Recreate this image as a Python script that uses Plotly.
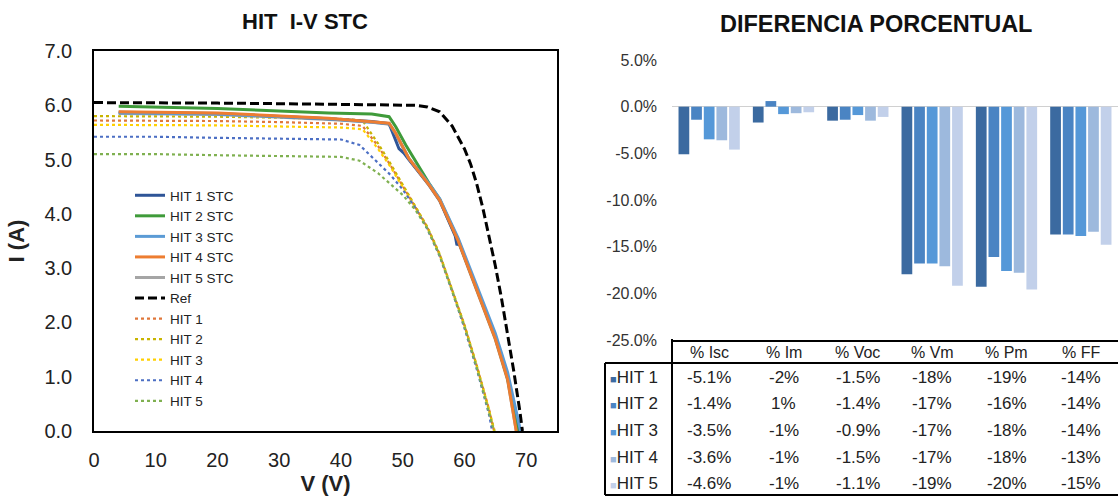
import plotly.graph_objects as go

# ---------------- Left chart data (I-V curves) ----------------
ref_v = [0, 10, 20, 30, 40, 48, 52, 54, 56, 58, 60, 61, 62, 63, 64, 65, 66, 67, 68, 69, 69.4]
ref_i = [6.05, 6.05, 6.04, 6.03, 6.02, 6.01, 6.0, 5.97, 5.88, 5.62, 5.2, 4.92, 4.55, 4.1, 3.6, 3.05, 2.45, 1.8, 1.1, 0.35, 0.0]

stc1_v = [4, 20, 38, 45, 47.8, 48.5, 49.4, 50.2, 51, 54.3, 56, 58.5, 58.8, 59.1, 61, 63, 65, 67, 68.8]
stc1_i = [5.87, 5.85, 5.75, 5.70, 5.66, 5.45, 5.20, 5.12, 5.00, 4.53, 4.25, 3.60, 3.42, 3.48, 2.92, 2.33, 1.73, 0.98, 0.0]
stc2_v = [4, 20, 38, 45, 47.8, 48.9, 50.5, 52, 54.3, 56, 59, 61, 63, 65, 67, 68.6]
stc2_i = [5.98, 5.94, 5.86, 5.84, 5.79, 5.60, 5.27, 4.98, 4.56, 4.27, 3.52, 2.92, 2.32, 1.72, 0.97, 0.0]
stc3_v = [4, 20, 38, 45, 47.8, 48.9, 51, 54.3, 56, 59, 61, 63, 65, 67, 69.1]
stc3_i = [5.86, 5.84, 5.75, 5.69, 5.66, 5.47, 5.02, 4.55, 4.28, 3.55, 2.96, 2.38, 1.80, 1.08, 0.0]
stc4_v = [4, 20, 38, 45, 47.8, 48.9, 51, 54.3, 56, 59, 61, 63, 65, 67, 68.4]
stc4_i = [5.88, 5.86, 5.76, 5.70, 5.67, 5.48, 5.02, 4.53, 4.25, 3.50, 2.90, 2.30, 1.70, 0.95, 0.0]
stc5_v = [4, 20, 38, 45, 47.8, 48.9, 51, 54.3, 56, 59, 61, 63, 65, 67, 68.4]
stc5_i = [5.85, 5.83, 5.74, 5.69, 5.65, 5.47, 5.01, 4.52, 4.24, 3.49, 2.89, 2.29, 1.69, 0.94, 0.0]

hit1_v = [0, 10, 20, 30, 40, 43.5, 46, 48, 50, 52, 54, 56, 58, 60, 62, 64, 64.8]
hit1_i = [5.72, 5.72, 5.71, 5.69, 5.66, 5.62, 5.25, 4.90, 4.52, 4.15, 3.75, 3.25, 2.62, 1.95, 1.20, 0.40, 0.0]
hit2_v = [0, 10, 20, 30, 40, 43.5, 46, 48, 50, 52, 54, 56, 58, 60, 62, 64, 64.9]
hit2_i = [5.80, 5.80, 5.79, 5.77, 5.75, 5.72, 5.30, 4.93, 4.54, 4.16, 3.76, 3.26, 2.63, 1.96, 1.21, 0.41, 0.0]
hit3_v = [0, 10, 20, 30, 40, 43.5, 46, 48, 50, 52, 54, 56, 58, 60, 62, 64, 64.8]
hit3_i = [5.64, 5.64, 5.63, 5.61, 5.59, 5.56, 5.20, 4.87, 4.50, 4.13, 3.74, 3.24, 2.61, 1.94, 1.19, 0.39, 0.0]
hit4_v = [0, 10, 20, 30, 40, 43, 46, 48, 50, 52, 54, 56, 58, 60, 62, 64, 64.5]
hit4_i = [5.42, 5.42, 5.40, 5.39, 5.37, 5.27, 4.95, 4.72, 4.45, 4.12, 3.72, 3.22, 2.58, 1.90, 1.14, 0.30, 0.0]
hit5_v = [0, 10, 20, 30, 40, 43, 46, 48, 50, 52, 54, 56, 58, 60, 62, 64, 64.8]
hit5_i = [5.10, 5.10, 5.08, 5.07, 5.05, 4.98, 4.75, 4.55, 4.35, 4.08, 3.73, 3.23, 2.60, 1.93, 1.17, 0.37, 0.0]

# ---------------- Right chart data (percent differences) ----------------
categories = ["% Isc", "% Im", "% Voc", "% Vm", "% Pm", "% FF"]
decimals = [1, 0, 1, 0, 0, 0]
series_names = ["HIT 1", "HIT 2", "HIT 3", "HIT 4", "HIT 5"]
d_hit1 = [-5.1, -1.7, -1.5, -17.95, -19.3, -13.7]
d_hit2 = [-1.4, 0.6, -1.4, -16.8, -16.1, -13.7]
d_hit3 = [-3.5, -0.8, -0.9, -16.8, -17.6, -13.85]
d_hit4 = [-3.6, -0.7, -1.5, -17.1, -17.8, -13.4]
d_hit5 = [-4.6, -0.6, -1.1, -19.2, -19.6, -14.8]
y_ticks = [5, 0, -5, -10, -15, -20, -25]

W, H = 1118, 499
FONT = "Liberation Sans, Arial, sans-serif"

def px_x(x):
    return x / W

def px_y(y):
    return 1 - y / H

fig = go.Figure()

solid = [
    ("HIT 1 STC", stc1_v, stc1_i, "#2F5597"),
    ("HIT 2 STC", stc2_v, stc2_i, "#3F9B3A"),
    ("HIT 3 STC", stc3_v, stc3_i, "#5B9BD5"),
    ("HIT 4 STC", stc4_v, stc4_i, "#ED7D31"),
    ("HIT 5 STC", stc5_v, stc5_i, "#A5A5A5"),
]
dotted = [
    ("HIT 1", hit1_v, hit1_i, "#E0773A"),
    ("HIT 2", hit2_v, hit2_i, "#C8B400"),
    ("HIT 3", hit3_v, hit3_i, "#FFD000"),
    ("HIT 4", hit4_v, hit4_i, "#4C6FC4"),
    ("HIT 5", hit5_v, hit5_i, "#7FB050"),
]
for k, (name, v, i, c) in enumerate(dotted):
    fig.add_trace(go.Scatter(x=v, y=i, name=name, mode="lines",
                             line=dict(color=c, width=2.2, dash="dot"),
                             xaxis="x", yaxis="y", legendrank=20 + k))
# drawing order: gray first, orange last (on top), legend order via legendrank
for k in [4, 0, 1, 2, 3]:
    name, v, i, c = solid[k]
    fig.add_trace(go.Scatter(x=v, y=i, name=name, mode="lines",
                             line=dict(color=c, width=3),
                             xaxis="x", yaxis="y", legendrank=k))
fig.add_trace(go.Scatter(x=ref_v, y=ref_i, name="Ref", mode="lines",
                         line=dict(color="black", width=3, dash="9px,4px"),
                         xaxis="x", yaxis="y", legendrank=10))

bar_colors = ["#3B6AA0", "#4A84C3", "#5598D8", "#9DB9DD", "#C2D0EA"]
series_vals = [d_hit1, d_hit2, d_hit3, d_hit4, d_hit5]
for name, vals, c in zip(series_names, series_vals, bar_colors):
    fig.add_trace(go.Bar(x=categories, y=vals, name=name, marker=dict(color=c, line=dict(width=0)),
                         xaxis="x2", yaxis="y2", showlegend=False))

left_dom_x = [px_x(94), px_x(557)]
left_dom_y = [px_y(431), px_y(51)]
right_dom_x = [px_x(672), 1.0]
right_dom_y = [px_y(340), px_y(60)]

fig.update_layout(
    template="none",
    width=W, height=H,
    margin=dict(l=0, r=0, t=0, b=0, autoexpand=False),
    paper_bgcolor="white", plot_bgcolor="white",
    font=dict(family=FONT, color="#222222"),
    showlegend=True,
    barmode="group", bargap=0.15, bargroupgap=0.15,
    xaxis=dict(domain=left_dom_x, range=[0, 75], dtick=10, tick0=0, automargin=False,
               showline=True, mirror=True, linecolor="black", linewidth=1.6,
               showgrid=False, zeroline=False, ticks="", ticklabelstandoff=10,
               tickfont=dict(size=20, color="#222222"),
               title=dict(text="<b>V (V)</b>", font=dict(size=22, color="#222222"), standoff=4)),
    yaxis=dict(domain=left_dom_y, range=[0, 7], dtick=1, tick0=0, tickformat=".1f", automargin=False,
               showline=True, mirror=True, linecolor="black", linewidth=1.6,
               showgrid=False, zeroline=False, ticks="", ticklabelstandoff=16,
               tickfont=dict(size=20, color="#222222"),
               title=dict(text="<b>I (A)</b>", font=dict(size=22, color="#222222"), standoff=14)),
    xaxis2=dict(domain=right_dom_x, range=[-0.5, 5.5], showticklabels=False, ticks="", automargin=False,
                showline=True, linecolor="black", linewidth=2, showgrid=False, zeroline=False,
                anchor="y2"),
    yaxis2=dict(domain=right_dom_y, range=[-25, 5], tickvals=y_ticks, automargin=False,
                ticktext=[f"{t:.1f}%" for t in y_ticks],
                showline=False, showgrid=False, zeroline=True, zerolinecolor="#D0D0D0",
                zerolinewidth=1, ticks="", ticklabelstandoff=14, anchor="x2",
                tickfont=dict(size=16, color="#333333")),
    legend=dict(x=px_x(130), y=px_y(180), xanchor="left", yanchor="top",
                bgcolor="rgba(0,0,0,0)", font=dict(size=13.5, color="#222222"),
                tracegroupgap=0),
)

fig.add_annotation(text="<b>HIT\u00a0 I-V STC</b>", x=px_x(305), y=px_y(21), xref="paper", yref="paper",
                   showarrow=False, font=dict(size=22, color="#111111"), xanchor="center", yanchor="middle")
fig.add_annotation(text="<b>DIFERENCIA PORCENTUAL</b>", x=px_x(876), y=px_y(24), xref="paper", yref="paper",
                   showarrow=False, font=dict(size=23.5, color="#111111"), xanchor="center", yanchor="middle")

header_y = 352
row_ys = [377, 403, 430, 457, 483]
for cat in categories:
    fig.add_annotation(text=cat, x=cat, xref="x2", y=px_y(header_y), yref="paper", showarrow=False,
                       font=dict(size=16, color="#222222"), xanchor="center", yanchor="middle")
for name, vals, c, ry in zip(series_names, series_vals, bar_colors, row_ys):
    fig.add_annotation(text=f"<span style='font-size:11px;color:{c}'>■</span>{name}", x=px_x(608), y=px_y(ry),
                       xref="paper", yref="paper", showarrow=False, xanchor="left", yanchor="middle",
                       font=dict(size=17, color="#222222"))
    for cat, v, d in zip(categories, vals, decimals):
        fig.add_annotation(text=f"{v:.{d}f}%", x=cat, xref="x2", y=px_y(ry), yref="paper",
                           showarrow=False, xanchor="center", yanchor="middle",
                           font=dict(size=17, color="#222222"))

line_style = dict(color="black", width=2)
fig.add_shape(type="line", xref="paper", yref="paper", x0=px_x(672), x1=px_x(672),
              y0=px_y(339), y1=px_y(495), line=line_style)
fig.add_shape(type="line", xref="paper", yref="paper", x0=px_x(605), x1=1.0,
              y0=px_y(363), y1=px_y(363), line=line_style)
fig.add_shape(type="line", xref="paper", yref="paper", x0=px_x(605), x1=px_x(605),
              y0=px_y(363), y1=px_y(495), line=line_style)
fig.add_shape(type="line", xref="paper", yref="paper", x0=px_x(605), x1=1.0,
              y0=px_y(495), y1=px_y(495), line=line_style)

fig.write_html("out.html", config={"displayModeBar": False},
               post_script="document.body.style.margin='0px';")
